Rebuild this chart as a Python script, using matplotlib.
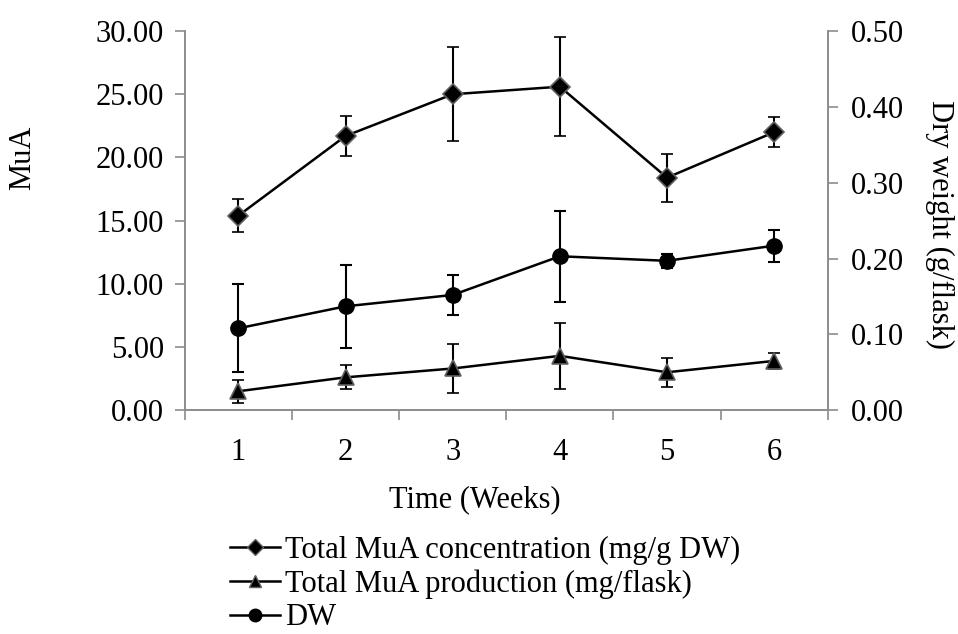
import numpy as np
import matplotlib.pyplot as plt
from matplotlib.lines import Line2D

plt.rcParams['font.family'] = ['Liberation Serif', 'DejaVu Serif']

weeks = [1, 2, 3, 4, 5, 6]
conc = [15.4, 21.7, 25.0, 25.6, 18.4, 22.0]
conc_err = [1.3, 1.6, 3.7, 3.9, 1.9, 1.2]
prod = [1.5, 2.6, 3.3, 4.3, 3.0, 3.9]
prod_err = [0.9, 0.95, 1.95, 2.6, 1.15, 0.65]
dw = [0.108, 0.137, 0.152, 0.203, 0.197, 0.217]
dw_err = [0.058, 0.055, 0.026, 0.060, 0.009, 0.021]

fs = 22
gray = '#8c8c8c'

fig = plt.figure(figsize=(9.58, 6.34), dpi=100)
ax = fig.add_axes([0.193, 0.353, 0.671, 0.598])
ax2 = ax.twinx()

ax.errorbar(weeks, conc, yerr=conc_err, marker='D', ms=10, color='black', mfc='black', mec='#606060',
            mew=1.2, lw=1.8, ecolor='black', elinewidth=1.5, capsize=4, capthick=1.5)
ax.errorbar(weeks, prod, yerr=prod_err, marker='^', ms=11, color='black', mfc='black', mec='#606060',
            mew=1.2, lw=1.8, ecolor='black', elinewidth=1.5, capsize=4, capthick=1.5)
ax2.errorbar(weeks, dw, yerr=dw_err, marker='o', ms=11, color='black', mfc='black', mec='black',
             lw=1.8, ecolor='black', elinewidth=1.5, capsize=4, capthick=1.5)

ax.set_xlim(0.5, 6.5)
ax.set_ylim(0, 30)
ax2.set_ylim(0, 0.5)
ax.set_xticks(np.arange(0.5, 7, 1), minor=False)
ax.set_xticklabels([])
ax.set_xticks(weeks, minor=True)
ax.set_xticklabels([str(w) for w in weeks], minor=True)
ax.tick_params(axis='x', which='minor', length=0, labelsize=fs, pad=20)
ax.tick_params(axis='x', which='major', length=7, color=gray, width=1.2)
ax.set_yticks(np.arange(0, 31, 5))
ax.set_yticklabels(['%.2f' % v for v in np.arange(0, 31, 5)])
ax.tick_params(axis='y', length=7, color=gray, width=1.2, labelsize=fs, pad=8)
ax2.set_yticks(np.arange(0, 0.51, 0.1))
ax2.set_yticklabels(['%.2f' % v for v in np.arange(0, 0.51, 0.1)])
ax2.tick_params(axis='y', length=7, color=gray, width=1.2, labelsize=fs, pad=10)

for a in (ax, ax2):
    a.spines['top'].set_visible(False)
    for s in ('left', 'right', 'bottom'):
        a.spines[s].set_color(gray)
        a.spines[s].set_linewidth(1.2)

ax.set_ylabel('MuA', fontsize=fs, va='center')
ax.yaxis.set_label_coords(-0.253, 0.665)
ax2.set_ylabel('Dry weight (g/flask)', fontsize=fs, rotation=270, va='center')
ax2.yaxis.set_label_coords(1.174, 0.49)
ax.set_xlabel('Time (Weeks)', fontsize=fs, va='center')
ax.xaxis.set_label_coords(0.451, -0.237)

handles = [
    Line2D([], [], color='black', marker='D', ms=8, mfc='black', mec='#606060', lw=1.8),
    Line2D([], [], color='black', marker='^', ms=9, mfc='black', mec='#606060', lw=1.8),
    Line2D([], [], color='black', marker='o', ms=9, mfc='black', mec='black', lw=1.8),
]
labels = ['Total MuA concentration (mg/g DW)', 'Total MuA production (mg/flask)', 'DW']
fig.legend(handles, labels, loc='upper left', bbox_to_anchor=(0.240, 0.155), frameon=False,
           fontsize=fs, handlelength=1.63, handletextpad=0.16, labelspacing=0.15, borderpad=0,
           borderaxespad=0)

fig.savefig('out.png', dpi=100)
